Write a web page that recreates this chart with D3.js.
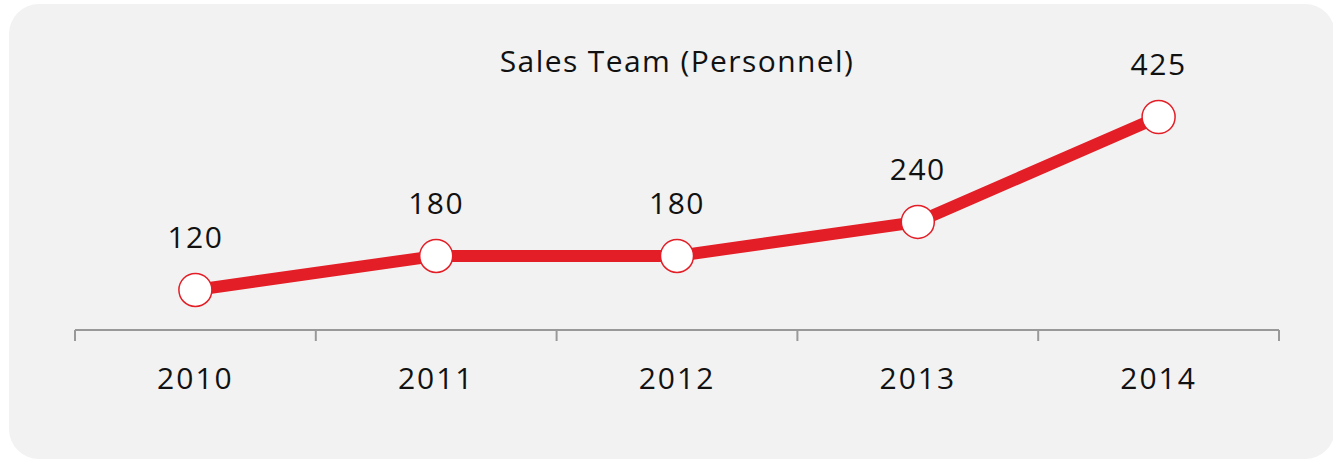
<!DOCTYPE html>
<html>
<head>
<meta charset="utf-8">
<script src="https://cdn.jsdelivr.net/npm/d3@7"></script>
<style>
  body { margin: 0; background: #fff; }
  text { font-family: "Open Sans", sans-serif; fill: #111; }
</style>
</head>
<body>
<div id="chart"></div>
<script>
// chart data
let years = ['2010', '2011', '2012', '2013', '2014']
let personnel = [120, 180, 180, 240, 425]
let title = 'Sales Team (Personnel)'

let width = 1333
let height = 460

let svg = d3.select('#chart').append('svg')
  .attr('width', width)
  .attr('height', height)

// gray rounded panel
svg.append('rect')
  .attr('x', 9)
  .attr('y', 4)
  .attr('width', 1326)
  .attr('height', 455)
  .attr('rx', 30)
  .attr('fill', '#f2f2f2')

let x = d3.scaleBand()
  .domain(years)
  .range([75, 1279])

let y = d3.scaleLinear()
  .domain([0, 425])
  .range([358, 117])

// axis
let axis = svg.append('g')
  .attr('transform', 'translate(0,330)')
  .call(d3.axisBottom(x).tickSize(0).tickPadding(0).tickFormat(''))

axis.select('.domain').remove()

axis.append('line')
  .attr('x1', 75)
  .attr('x2', 1279)
  .attr('stroke', '#999')
  .attr('stroke-width', 2)

let bounds = years.map(d => x(d)).concat([x(years[years.length - 1]) + x.bandwidth()])
axis.selectAll('.bound').data(bounds).enter()
  .append('line')
  .attr('class', 'bound')
  .attr('x1', d => d)
  .attr('x2', d => d)
  .attr('y1', 0)
  .attr('y2', 11)
  .attr('stroke', '#999')
  .attr('stroke-width', 2)

svg.selectAll('.year').data(years).enter()
  .append('text')
  .attr('class', 'year')
  .attr('x', d => x(d) + x.bandwidth() / 2)
  .attr('y', 389)
  .attr('text-anchor', 'middle')
  .style('font-size', '30px')
  .style('letter-spacing', '2px')
  .text(d => d)

// title
svg.append('text')
  .attr('x', x('2012') + x.bandwidth() / 2)
  .attr('y', 72)
  .attr('text-anchor', 'middle')
  .style('font-size', '30px')
  .style('letter-spacing', '1.4px')
  .text(title)

let cx = (d, i) => x(years[i]) + x.bandwidth() / 2

let line = d3.line()
  .x((d, i) => cx(d, i))
  .y(d => y(d))

svg.append('path')
  .datum(personnel)
  .attr('d', line)
  .attr('fill', 'none')
  .attr('stroke', '#e31e26')
  .attr('stroke-width', 12)

svg.selectAll('.dot').data(personnel).enter()
  .append('circle')
  .attr('class', 'dot')
  .attr('cx', cx)
  .attr('cy', d => y(d))
  .attr('r', 16.5)
  .attr('fill', '#fff')
  .attr('stroke', '#e31e26')
  .attr('stroke-width', 1.5)

svg.selectAll('.val').data(personnel).enter()
  .append('text')
  .attr('class', 'val')
  .attr('x', cx)
  .attr('y', d => y(d) - 42)
  .attr('text-anchor', 'middle')
  .style('font-size', '30px')
  .style('letter-spacing', '1.5px')
  .text(d => d)
</script>
</body>
</html>
